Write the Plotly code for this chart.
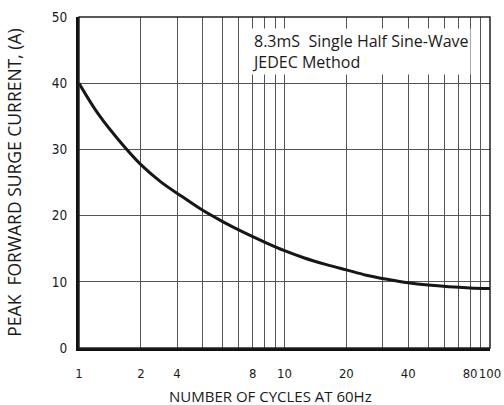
import plotly.graph_objects as go

# Data
cycles = [1, 1.25, 1.6, 2, 2.5, 3.2, 4, 5, 6.3, 8, 10, 12.5, 16, 20, 25, 32, 40, 50, 63, 80, 100]
current = [40.0, 35.2, 31.0, 27.7, 25.1, 22.8, 20.8, 19.1, 17.5, 16.0, 14.7, 13.6, 12.6,
           11.8, 11.0, 10.35, 9.85, 9.5, 9.25, 9.08, 9.0]

x_tick_vals = [1, 2, 3, 7, 10, 20, 40, 80, 100]
x_tick_text = ["1", "2", "4", "8", "10", "20", "40", "80", "100"]
x_minor_vals = [2, 3, 4, 5, 6, 7, 8, 9, 20, 30, 40, 50, 60, 70, 80, 90]
y_tick_vals = [0, 10, 20, 30, 40, 50]

x_title = "NUMBER OF CYCLES AT 60Hz"
y_title = "PEAK  FORWARD SURGE CURRENT, (A)"
note = "8.3mS  Single Half Sine-Wave<br>JEDEC Method"

XTICKFONT = dict(family="DejaVu Sans Condensed, sans-serif", size=13, color="#1a1a1a")
YTICKFONT = dict(family="DejaVu Sans Condensed, sans-serif", size=13.5, color="#1a1a1a")
GRID = "#555555"

fig = go.Figure()
fig.add_trace(go.Scatter(
    x=cycles, y=current, mode="lines",
    line=dict(color="#161616", width=3, shape="spline", smoothing=1.0),
    hoverinfo="x+y", showlegend=False,
))

fig.update_layout(
    width=504, height=405,
    margin=dict(l=79, r=14, t=17, b=57),
    paper_bgcolor="white", plot_bgcolor="white",
    xaxis=dict(
        type="log", range=[0, 2], automargin=False, tickangle=0,
        tickmode="array", tickvals=x_tick_vals, ticktext=x_tick_text,
        tickfont=XTICKFONT,
        ticks="outside", ticklen=11, tickcolor="rgba(0,0,0,0)",
        showgrid=True, gridcolor=GRID, gridwidth=1,
        minor=dict(tickmode="array", tickvals=x_minor_vals, showgrid=True,
                   gridcolor=GRID, gridwidth=1, ticks=""),
        showline=True, linecolor="#111111", linewidth=3,
        zeroline=False,
    ),
    yaxis=dict(
        range=[0, 50], automargin=False,
        tickmode="array", tickvals=y_tick_vals,
        tickfont=YTICKFONT,
        ticks="outside", ticklen=6, tickcolor="rgba(0,0,0,0)",
        showgrid=True, gridcolor=GRID, gridwidth=1,
        showline=True, linecolor="#111111", linewidth=3,
        zeroline=False,
        title=dict(text=y_title, font=dict(family="Open Sans, sans-serif", size=17.5, color="#1a1a1a"), standoff=26),
    ),
    shapes=[dict(type="rect", xref="paper", yref="paper", x0=0, x1=1, y0=0, y1=1,
                 line=dict(color="#222222", width=1.5), layer="above")],
    annotations=[
        dict(
            text=note, xref="paper", yref="paper", x=0.417, y=0.968,
            xanchor="left", yanchor="top", align="left", showarrow=False,
            font=dict(family="Open Sans, sans-serif", size=16, color="#1a1a1a"),
            bgcolor="white", borderpad=1,
        ),
        dict(
            text=x_title, xref="paper", yref="paper", x=0.467, y=0, yshift=-48,
            xanchor="center", yanchor="middle", showarrow=False,
            font=dict(family="Open Sans, sans-serif", size=15, color="#1a1a1a"),
        ),
    ],
)

fig.write_html("out.html", config={"displayModeBar": False},
               post_script="document.body.style.margin='0';")
